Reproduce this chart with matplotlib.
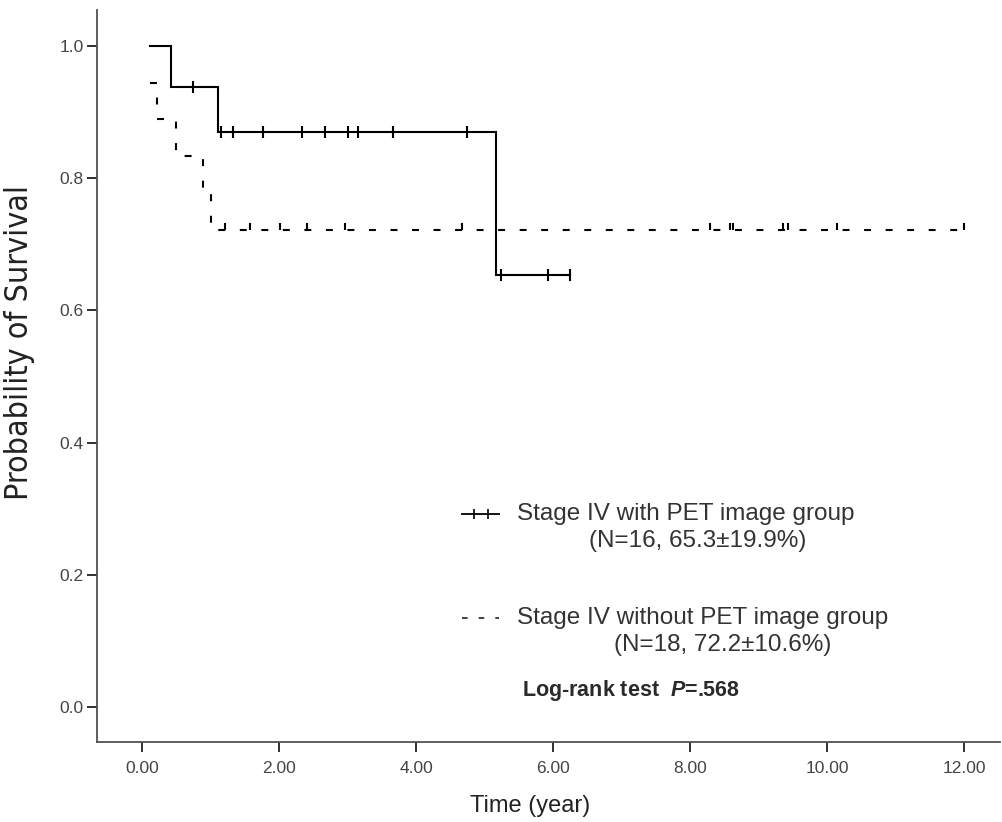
import numpy as np
import matplotlib
matplotlib.use("Agg")
import matplotlib.pyplot as plt
from matplotlib.lines import Line2D

plt.rcParams['lines.scale_dashes'] = False
plt.rcParams['mathtext.fontset'] = 'custom'
plt.rcParams['mathtext.it'] = 'Liberation Sans:italic:bold'
plt.rcParams['mathtext.rm'] = 'Liberation Sans:bold'
plt.rcParams['font.family'] = ['Liberation Sans', 'DejaVu Sans']

# ---------------- data ----------------
curve_start = 0.11
pet_n = 16
pet_events = [0.42, 1.11, 5.17]
pet_censored = [0.74, 1.15, 1.32, 1.76, 2.33, 2.67, 3.00, 3.15, 3.66, 4.74,
                5.24, 5.92, 6.24]
nopet_n = 18
nopet_events = [0.11, 0.21, 0.49, 0.89, 1.01]
nopet_censored = [1.21, 1.57, 2.01, 2.40, 2.96, 4.66, 8.29, 8.58, 8.63,
                  9.36, 9.43, 10.14, 11.99]

x_ticks = [0, 2, 4, 6, 8, 10, 12]
x_tick_labels = ['0.00', '2.00', '4.00', '6.00', '8.00', '10.00', '12.00']
y_ticks = [0.0, 0.2, 0.4, 0.6, 0.8, 1.0]
y_tick_labels = ['0.0', '0.2', '0.4', '0.6', '0.8', '1.0']

legend_titles = ['Stage IV with PET image group',
                 'Stage IV without PET image group']
legend_notes = ['(N=16, 65.3\u00b119.9%)', '(N=18, 72.2\u00b110.6%)']
logrank_text = r'Log-rank test  $\mathit{P}$=.568'
x_label = 'Time (year)'
y_label = 'Probability of Survival'


def km_curve(start, events, censored, n):
    """Kaplan-Meier step coordinates and censor positions."""
    recs = sorted([(t, 0) for t in events] + [(t, 1) for t in censored])
    s = 1.0
    at_risk = n
    xs, ys = [start], [1.0]
    cx, cy = [], []
    for t, kind in recs:
        if kind == 0:
            xs.append(t); ys.append(s)
            s *= (at_risk - 1) / at_risk
            xs.append(t); ys.append(s)
        else:
            cx.append(t); cy.append(s)
        at_risk -= 1
    last = recs[-1][0]
    xs.append(last); ys.append(s)
    # drop the leading vertical when the first event is at the start time
    if events and events[0] <= start:
        xs, ys = xs[2:], ys[2:]
    return xs, ys, cx, cy


W, H = 1002, 822
fig = plt.figure(figsize=(W / 100, H / 100), dpi=100)

def fx(px):
    return px / W

def fy(py):
    return 1 - py / H

ax = fig.add_axes([fx(97), fy(742), fx(1000) - fx(97), fy(10) - fy(742)])

lw = 1.5
# PET group (solid)
xs, ys, cx, cy = km_curve(curve_start, pet_events, pet_censored, pet_n)
ax.plot(xs, ys, color='black', lw=lw, solid_joinstyle='miter')
ax.plot(cx, cy, ls='none', marker='|', markersize=8, mew=1.5, color='black')

# no-PET group (dashed)
xs2, ys2, cx2, cy2 = km_curve(curve_start, nopet_events, nopet_censored, nopet_n)
ax.plot(xs2, ys2, color='black', lw=lw, dashes=(5, 10.5))
ax.plot(cx2, cy2, ls='none', marker=2, markersize=5, mew=1.5, color='black')

ax.set_xlim((97 - 142.3) / 68.5, (1000 - 142.3) / 68.5)
ax.set_ylim(-(742 - 707) / 661, 1 + (46 - 10) / 661)

ax.set_xticks(x_ticks)
ax.set_xticklabels(x_tick_labels)
ax.set_yticks(y_ticks)
ax.set_yticklabels(y_tick_labels)

for side in ['top', 'right']:
    ax.spines[side].set_visible(False)
for side in ['left', 'bottom']:
    ax.spines[side].set_color('#505050')
    ax.spines[side].set_linewidth(1.3)

ax.tick_params(axis='both', direction='out', length=7.5, width=1.4,
               color='#303030', labelsize=12.5, labelcolor='#444444')
ax.tick_params(axis='x', pad=6)
ax.tick_params(axis='y', pad=2)

ax.set_xlabel(x_label, fontsize=17, color='#222222')
ax.xaxis.set_label_coords((530 - 97) / (1000 - 97), -(806 - 742) / (742 - 10))
ax.xaxis.label.set_va('center')
ax.set_ylabel(y_label, fontsize=23, color='#222222',
              family=['DejaVu Sans'], fontstretch='condensed')
ax.yaxis.set_label_coords(-(97 - 20) / (1000 - 97), (742 - 342) / (742 - 10))
ax.yaxis.label.set_va('center')

# ---------------- legend (manual) ----------------
leg_x0, leg_x1 = 462, 499
row_y = [514, 618]
note_y = [541, 645]
note_cx = [698, 723]

# solid sample with censor ticks
fig.add_artist(Line2D([fx(leg_x0), fx(leg_x1)], [fy(row_y[0])] * 2,
                      color='black', lw=1.3))
fig.add_artist(Line2D([fx(474), fx(488)], [fy(row_y[0])] * 2, ls='none',
                      marker='|', markersize=7, mew=1.2, color='black'))
# dashed sample
fig.add_artist(Line2D([fx(leg_x0), fx(leg_x1)], [fy(row_y[1])] * 2,
                      color='#333333', lw=1.3, dashes=(4, 8)))

for i in range(2):
    fig.text(fx(517), fy(row_y[i]), legend_titles[i], fontsize=17.5,
             color='#333333', ha='left', va='center')
    fig.text(fx(note_cx[i]), fy(note_y[i]), legend_notes[i], fontsize=17.5,
             color='#333333', ha='center', va='center')

fig.text(fx(522), fy(690), logrank_text, fontsize=15.5, fontweight='bold',
         color='#2a2a2a', ha='left', va='center')

fig.savefig('out.png', dpi=100)
